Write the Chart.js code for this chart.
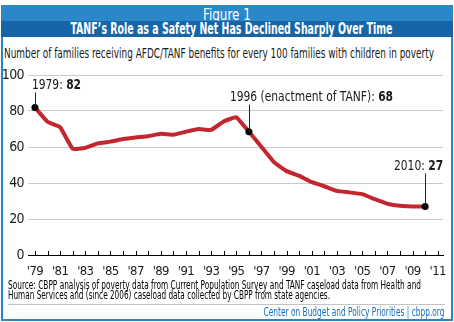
<!DOCTYPE html>
<html>
<head>
<meta charset="utf-8">
<script src="https://cdn.jsdelivr.net/npm/chart.js@4"></script>
<style>
  html, body { margin: 0; padding: 0; background: #fff; }
  body {
    width: 454px; height: 322px; position: relative; overflow: hidden;
    font-family: 'Liberation Sans Narrow', 'DejaVu Sans Condensed', Roboto, sans-serif;
    color: #1a1a1a;
  }
  #frame {
    position: absolute; left: 1px; top: 5px; width: 452px; height: 316px;
    box-sizing: border-box; border: 2px solid #2a84c6;
  }
  .band { position: absolute; left: 1px; width: 452px; text-align: center; color: #fff; white-space: nowrap; overflow: hidden; }
  #fig { top: 5px; height: 16px; background: #2a88c9; font-size: 15px; line-height: 16px; }
  #fig .fit { position: relative; top: 2px; }
  #title { top: 21px; height: 16px; background: #1565a8; font-size: 15px; font-weight: bold; line-height: 16px; }
  .fit { display: inline-block; white-space: nowrap; }
  #sub { position: absolute; left: 4px; top: 45px; font-size: 14px; line-height: 16px; }
  #chart { position: absolute; left: 0; top: 60px; }
  .src { position: absolute; left: 8px; font-size: 11.5px; line-height: 11px; color: #000; }
  #src1 { top: 280px; }
  #src2 { top: 290px; }
  #rule { position: absolute; left: 8px; top: 304px; width: 437px; height: 1px; background: #c4c4c4; }
  #credit { position: absolute; right: 10px; top: 306px; font-size: 12px; line-height: 13px; color: #1b6db4; }
</style>
</head>
<body>
<div id="frame"></div>
<div class="band" id="fig"><span class="fit" data-w="48" data-o="center">Figure 1</span></div>
<div class="band" id="title"><span class="fit" data-w="322" data-o="center">TANF’s Role as a Safety Net Has Declined Sharply Over Time</span></div>
<div id="sub"><span class="fit" data-w="430" data-o="left">Number of families receiving AFDC/TANF benefits for every 100 families with children in poverty</span></div>
<canvas id="chart" width="454" height="222"></canvas>
<div class="src" id="src1"><span class="fit" data-w="413" data-o="left">Source: CBPP analysis of poverty data from Current Population Survey and TANF caseload data from Health and</span></div>
<div class="src" id="src2"><span class="fit" data-w="322" data-o="left">Human Services and (since 2006) caseload data collected by CBPP from state agencies.</span></div>
<div id="rule"></div>
<div id="credit"><span class="fit" data-w="181" data-o="right">Center on Budget and Policy Priorities | cbpp.org</span></div>

<script>
// Data
const years = [1979, 1980, 1981, 1982, 1983, 1984, 1985, 1986, 1987, 1988, 1989,
  1990, 1991, 1992, 1993, 1994, 1995, 1996, 1997, 1998, 1999, 2000,
  2001, 2002, 2003, 2004, 2005, 2006, 2007, 2008, 2009, 2010]
const families = [82, 74, 71, 59, 59.5, 62, 63, 64.4, 65.3, 66, 67.3,
  66.8, 68.5, 70, 69.5, 74.2, 76.5, 68.5, 60, 51.5, 46.6, 44,
  40.5, 38.2, 35.6, 34.8, 33.8, 31, 28.5, 27.3, 27, 27]
const xTickYears = [1979, 1980, 1981, 1982, 1983, 1984, 1985, 1986, 1987, 1988, 1989,
  1990, 1991, 1992, 1993, 1994, 1995, 1996, 1997, 1998, 1999, 2000,
  2001, 2002, 2003, 2004, 2005, 2006, 2007, 2008, 2009, 2010, 2011]
const yTickValues = [0, 10, 20, 30, 40, 50, 60, 70, 80, 90, 100]

// Callouts: year, prefix text, bold value text
const calloutYears = [1979, 1996, 2010]
const calloutPrefix = ["1979: ", "1996 (enactment of TANF): ", "2010: "]
const calloutValue = ["82", "68", "27"]

// Fit HTML text to the widths it has in the picture
document.querySelectorAll(".fit").forEach((el) => {
  const w = Number(el.dataset.w)
  const s = w / el.getBoundingClientRect().width
  el.style.transformOrigin = el.dataset.o + " center"
  el.style.transform = `scaleX(${s})`
})

const FONT = "'Liberation Sans Narrow', 'DejaVu Sans Condensed', Roboto, sans-serif"

// where each callout label sits relative to its dot: [dx of text start, rise]
const calloutPlace = { 1979: [-3, 22], 1996: [-19, 34], 2010: [18, 40] }

const calloutPlugin = {
  id: "callouts",
  beforeUpdate(chart) {
    // tighter letters, closer to the condensed face of the original
    chart.ctx.letterSpacing = "-0.6px"
  },
  beforeDraw(chart) {
    chart.ctx.letterSpacing = "-0.6px"
  },
  afterDatasetsDraw(chart) {
    const { ctx, scales } = chart
    const x = scales.x, y = scales.y
    ctx.save()
    ctx.letterSpacing = "0px"
    calloutYears.forEach((yr, i) => {
      const idx = years.indexOf(yr)
      const px = x.getPixelForValue(yr)
      const py = y.getPixelForValue(families[idx])
      const [dx, rise] = calloutPlace[yr]
      const ty = py - rise

      ctx.font = `14px ${FONT}`
      const w1 = ctx.measureText(calloutPrefix[i]).width
      ctx.font = `bold 14px ${FONT}`
      const w2 = ctx.measureText(calloutValue[i]).width
      const sx = 0.85
      let left = px + dx
      if (yr === 2010) left = px + dx - (w1 + w2) * sx

      // leader line
      ctx.strokeStyle = "#222"
      ctx.lineWidth = 1
      ctx.beginPath()
      ctx.moveTo(Math.round(px) + 0.5, ty + 7)
      ctx.lineTo(Math.round(px) + 0.5, py)
      ctx.stroke()

      // text
      ctx.fillStyle = "#1a1a1a"
      ctx.textBaseline = "middle"
      ctx.textAlign = "left"
      ctx.save()
      ctx.translate(left, ty)
      ctx.scale(sx, 1)
      ctx.font = `14px ${FONT}`
      ctx.fillText(calloutPrefix[i], 0, 0)
      ctx.font = `bold 14px ${FONT}`
      ctx.fillText(calloutValue[i], w1, 0)
      ctx.restore()
    })
    ctx.restore()
  },
  afterDraw(chart) {
    // small upward tick marks on the x axis
    const { ctx, scales, chartArea } = chart
    const x = scales.x
    ctx.save()
    ctx.strokeStyle = "#000"
    ctx.lineWidth = 1
    x.ticks.forEach((t, i) => {
      const px = Math.round(x.getPixelForTick(i)) + 0.5
      ctx.beginPath()
      ctx.moveTo(px, chartArea.bottom)
      ctx.lineTo(px, chartArea.bottom - 4)
      ctx.stroke()
    })
    ctx.restore()
  },
}

const ctx = document.getElementById("chart").getContext("2d")

new Chart(ctx, {
  type: "line",
  data: {
    datasets: [
      {
        data: years.map((yr, i) => ({ x: yr, y: families[i] })),
        borderColor: "#c3262e",
        borderWidth: 4,
        tension: 0.1,
        fill: false,
        pointRadius: years.map((yr) => (calloutYears.includes(yr) ? 3.5 : 0)),
        pointBackgroundColor: "#000",
        pointBorderWidth: 0,
        borderCapStyle: "round",
        borderJoinStyle: "round",
      },
    ],
  },
  options: {
    responsive: false,
    animation: false,
    devicePixelRatio: 1,
    layout: { padding: { left: 0, right: 11, top: 15, bottom: 0 } },
    plugins: {
      legend: { display: false },
      tooltip: { enabled: false },
    },
    scales: {
      x: {
        type: "linear",
        min: 1978.45,
        max: 2011.42,
        afterBuildTicks: (scale) => {
          scale.ticks = xTickYears.map((v) => ({ value: v }))
        },
        afterFit: (scale) => {
          scale.height = 27
        },
        grid: { display: false },
        border: { display: true, color: "#000", width: 1 },
        ticks: {
          autoSkip: false,
          maxRotation: 0,
          padding: 1,
          color: "#1a1a1a",
          font: { family: FONT, size: 13 },
          callback: (v) => ((v - 1979) % 2 === 0 ? "'" + String(v).slice(2) : ""),
        },
      },
      y: {
        min: 0,
        max: 100,
        afterBuildTicks: (scale) => {
          scale.ticks = yTickValues.map((v) => ({ value: v }))
        },
        afterFit: (scale) => {
          scale.width = 28
        },
        grid: {
          color: (c) => (c.tick && c.tick.value === 0 ? "rgba(0,0,0,0)" : "#cacaca"),
          lineWidth: 1,
          drawTicks: false,
        },
        border: { display: false },
        ticks: {
          padding: 4,
          color: "#1a1a1a",
          font: { family: FONT, size: 14 },
          callback: (v) => (v % 20 === 0 ? v : ""),
        },
      },
    },
  },
  plugins: [calloutPlugin],
})
</script>
</body>
</html>
